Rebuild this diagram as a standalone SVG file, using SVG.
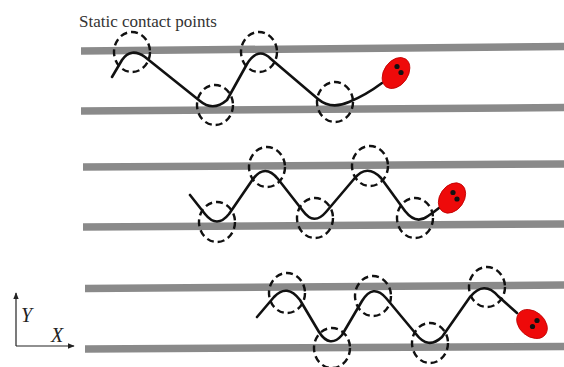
<svg xmlns="http://www.w3.org/2000/svg" width="564" height="367" viewBox="0 0 564 367">
  <defs>
    <style>
      .bar { stroke: #8a8a8a; stroke-width: 7.5; fill: none; }
      .wave { stroke: #111; stroke-width: 2.6; fill: none; stroke-linecap: round; stroke-linejoin: round; }
      .contact { stroke: #111; stroke-width: 2.4; fill: none; stroke-dasharray: 7 4; }
      .head { fill: #ee0a0a; stroke: #c00000; stroke-width: 0.8; }
      .eye { fill: #111; }
      .axis { stroke: #222; stroke-width: 1.2; fill: none; }
      .label { font-family: "Liberation Serif", "Times New Roman", serif; fill: #333; }
      .axlabel { font-family: "Liberation Serif", "Times New Roman", serif; font-style: italic; font-size: 20px; fill: #222; }
    </style>
    <marker id="tip" viewBox="0 0 10 10" refX="9" refY="5" markerWidth="7" markerHeight="7" orient="auto" markerUnits="userSpaceOnUse">
      <path d="M0,1 L10,5 L0,9 z" fill="#222"/>
    </marker>
  </defs>

  <rect width="564" height="367" fill="#ffffff"/>

  <text class="label" x="79" y="27" font-size="17">Static contact points</text>

  <!-- guide rails -->
  <g id="rails">
    <line class="bar" x1="81" y1="51" x2="564" y2="46.5"/>
    <line class="bar" x1="81" y1="111" x2="564" y2="107.5"/>
    <line class="bar" x1="83" y1="167" x2="564" y2="164"/>
    <line class="bar" x1="83" y1="227" x2="564" y2="224"/>
    <line class="bar" x1="85" y1="288.5" x2="564" y2="285"/>
    <line class="bar" x1="85" y1="349" x2="564" y2="346.5"/>
  </g>

  <!-- state 1 -->
  <g id="state1">
    <path class="wave" d="M112,77 L122,60 Q131,47 145,57 L200,101 Q213,112 227,100 L247,64 Q258,46 271,59 L318,99 Q331,110 349,102 Q366,95 382,83"/>
    <g id="contacts1">
      <ellipse class="contact" cx="132" cy="52" rx="18" ry="20"/>
      <ellipse class="contact" cx="215" cy="105" rx="18" ry="20"/>
      <ellipse class="contact" cx="259" cy="52" rx="18" ry="20"/>
      <ellipse class="contact" cx="335" cy="102" rx="18" ry="20"/>
    </g>
    <g id="head1">
      <ellipse class="head" cx="396" cy="73" rx="17" ry="12" transform="rotate(-55 396 73)"/>
      <circle class="eye" cx="397" cy="66.5" r="2.6"/>
      <circle class="eye" cx="401" cy="72.5" r="2.6"/>
    </g>
  </g>

  <!-- state 2 -->
  <g id="state2">
    <path class="wave" d="M190,195 L205,214 Q217,229 229,214 L253,179 Q265,163 278,179 L303,211 Q314,226 326,212 L354,179 Q367,163 381,178 L405,211 Q416,225 428,216 Q434,212 439,208"/>
    <g id="contacts2">
      <ellipse class="contact" cx="217" cy="222" rx="18" ry="20"/>
      <ellipse class="contact" cx="267" cy="167" rx="18" ry="20"/>
      <ellipse class="contact" cx="315" cy="218" rx="18" ry="20"/>
      <ellipse class="contact" cx="370" cy="166" rx="18" ry="20"/>
      <ellipse class="contact" cx="415" cy="218" rx="18" ry="20"/>
    </g>
    <g id="head2">
      <ellipse class="head" cx="452" cy="198" rx="16.5" ry="12" transform="rotate(-55 452 198)"/>
      <circle class="eye" cx="453" cy="192.5" r="2.6"/>
      <circle class="eye" cx="457" cy="199" r="2.6"/>
    </g>
  </g>

  <!-- state 3 -->
  <g id="state3">
    <path class="wave" d="M257,317 L274,297 Q287,283 300,300 L319,332 Q330,349 342,335 L362,301 Q373,283 386,298 L416,334 Q428,350 442,337 L470,297 Q484,280 498,296 L517,313"/>
    <g id="contacts3">
      <ellipse class="contact" cx="287" cy="293" rx="18" ry="20"/>
      <ellipse class="contact" cx="332" cy="348" rx="18" ry="20"/>
      <ellipse class="contact" cx="373" cy="296" rx="18" ry="20"/>
      <ellipse class="contact" cx="430" cy="343" rx="18" ry="20"/>
      <ellipse class="contact" cx="487" cy="287" rx="18" ry="20"/>
    </g>
    <g id="head3">
      <ellipse class="head" cx="532" cy="324" rx="17" ry="12.5" transform="rotate(40 532 324)"/>
      <circle class="eye" cx="537" cy="320.5" r="2.6"/>
      <circle class="eye" cx="532.5" cy="326.5" r="2.6"/>
    </g>
  </g>

  <!-- axes -->
  <g id="axes">
    <polyline class="axis" points="16,346 16,293" marker-end="url(#tip)"/>
    <line class="axis" x1="16" y1="346" x2="74" y2="346" marker-end="url(#tip)"/>
    <text class="axlabel" x="21" y="322">Y</text>
    <text class="axlabel" x="51" y="342">X</text>
  </g>
</svg>
